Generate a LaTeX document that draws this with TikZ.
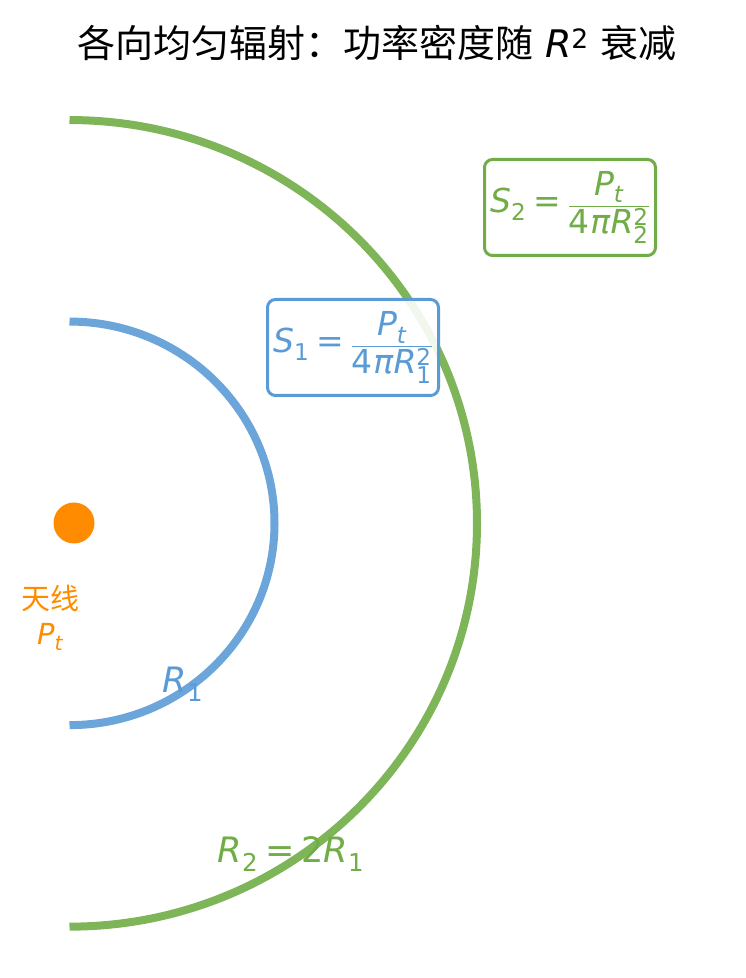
\documentclass[tikz,border=0pt]{standalone}
\usepackage{mathspec}
\usepackage{tikz}
\setmainfont{DejaVu Sans}
\setmathsfont(Digits,Latin,Greek){DejaVu Sans}
\newfontfamily\cjk{Noto Sans CJK SC}
\usetikzlibrary{positioning}
\definecolor{waveblue}{RGB}{91,155,213}
\definecolor{wavegreen}{RGB}{112,173,71}
\definecolor{srcorange}{RGB}{255,140,0}
\newcommand{\eqsign}{\mathrel{\mbox{=}}}

\begin{document}
\begin{tikzpicture}[x=1pt,y=1pt,
                    wave/.style={line width=8pt,opacity=0.9},
                    eq box/.style={draw,line width=3pt,rounded corners=8pt,fill=white,
                      fill opacity=0.9,text opacity=1,minimum width=171pt,
                      minimum height=96pt,inner sep=0pt,font=\fontsize{33}{38}\selectfont},
                    lbl/.style={font=\fontsize{35}{40}\selectfont}]

  \useasboundingbox (0,0) rectangle (745,978);
  \coordinate (O) at (69.5,454.65);

  % wave fronts
  \draw[wave,wavegreen] ([yshift=403.3pt]O) arc[start angle=90,end angle=-90,
                                                 x radius=407.5pt,y radius=403.3pt];
  \draw[wave,waveblue] ([yshift=201.8pt]O) arc[start angle=90,end angle=-90,
                                                x radius=205pt,y radius=201.8pt];

  \node[circle,fill=srcorange,inner sep=0pt,minimum size=41pt] (src) at (74,455) {};
  \node[font=\fontsize{29}{35}\selectfont,text=srcorange,align=center] (ant) at (50,360)
    {{\cjk 天线}\\$P_t$};

  \node[lbl,text=waveblue] (r1) at (183,294) {$R_1$};
  \node[lbl,text=wavegreen] (r2) at (291,124) {$R_2 \eqsign 2R_1$};

  \node[eq box,draw=waveblue,text=waveblue] (s1) at (353,630.5)
    {$S_1 \eqsign \displaystyle\frac{P_t}{\rule{0pt}{0.8em}4\pi R_1^2}$};
  \node[eq box,draw=wavegreen,text=wavegreen] (s2) at (570,770.5)
    {$S_2 \eqsign \displaystyle\frac{P_t}{\rule{0pt}{0.8em}4\pi R_2^2}$};

  \node[font=\fontsize{38}{44}\selectfont] (title) at (377,935)
    {{\cjk 各向均匀辐射：功率密度随} $R^2$ {\cjk 衰减}};

\end{tikzpicture}
\end{document}
